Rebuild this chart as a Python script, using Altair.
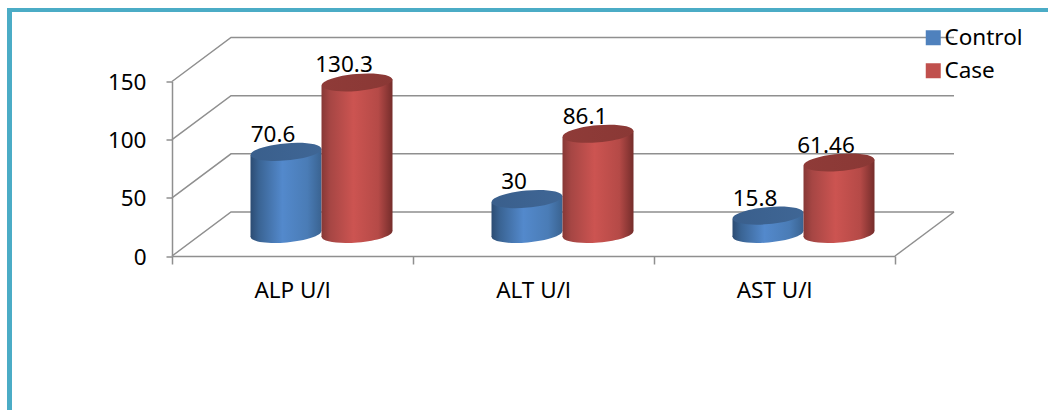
import altair as alt
import pandas as pd

# Values shown on the chart
categories = ["ALP U/l", "ALT U/l", "AST U/l"]
control = [70.6, 30, 15.8]
case = [130.3, 86.1, 61.46]
y_ticks = [0, 50, 100, 150]
x_ticks = [0, 1, 2, 3]

# Plot box in pixels and the pseudo-3D depth of the floor
WIDTH, HEIGHT = 723, 174.5
PX_X = 3 / WIDTH
PX_Y = 150 / HEIGHT
DEPTH_X = 59 * PX_X
DEPTH_Y = 44 * PX_Y
BASE = DEPTH_Y / 2
CYL_W = 71 * PX_X
TILT = 3.1 * PX_Y
ELLIPSE = "M-0.9962,0.0872 A1,0.24 -5 1 1 0.9962,-0.0872 A1,0.24 -5 1 1 -0.9962,0.0872 Z"
ELLIPSE_SIZE = 71 ** 2

GREY = "#8f8f8f"
TEAL = "#4bacc6"
FONT = "Noto Sans"
FS = 22.5

x_scale = alt.Scale(domain=[0, 3], nice=False, zero=False)
y_scale = alt.Scale(domain=[0, 150], nice=False)


def gradient(stops):
    return alt.Gradient(
        gradient="linear", x1=0, x2=1, y1=0, y2=0,
        stops=[alt.GradientStop(offset=o, color=c) for o, c in stops],
    )


# Back wall and side wall grid, drawn as one polyline per tick, plus the floor edge
grid_rows = []
for t in y_ticks:
    grid_rows += [
        {"g": f"t{t}", "i": 0, "x": 0, "y": t},
        {"g": f"t{t}", "i": 1, "x": DEPTH_X, "y": t + DEPTH_Y},
        {"g": f"t{t}", "i": 2, "x": 3 + DEPTH_X, "y": t + DEPTH_Y},
    ]
grid_rows += [
    {"g": "floor", "i": 0, "x": 3, "y": 0},
    {"g": "floor", "i": 1, "x": 3 + DEPTH_X, "y": DEPTH_Y},
]
grid = alt.Chart(pd.DataFrame(grid_rows)).mark_line(color=GREY, strokeWidth=1.5).encode(
    x=alt.X(
        "x:Q", scale=x_scale, title=None,
        axis=alt.Axis(values=x_ticks, labels=False, grid=False, domainColor=GREY, domainWidth=1.5,
                      tickColor=GREY, tickWidth=1.5, tickSize=8),
    ),
    y=alt.Y(
        "y:Q", scale=y_scale, title=None,
        axis=alt.Axis(values=y_ticks, grid=False, domainColor=GREY, domainWidth=1.5,
                      tickColor=GREY, tickWidth=1.5, tickSize=6, labelFont=FONT, labelFontSize=FS,
                      labelColor="#000000", labelPadding=20, labelOffset=1),
    ),
    detail="g:N",
    order="i:Q",
)


def cylinder(values, side, body_stops, cap_stops):
    """Bottom ellipse, side wall and top cap for one series."""
    centers = [i + 0.5 + DEPTH_X / 2 - 0.5 * PX_X + side * CYL_W / 2 for i in range(len(categories))]
    ends = pd.DataFrame({"c": categories, "x": centers, "y": [BASE + v for v in values]})
    wall_rows = []
    for name, cx, v in zip(categories, centers, values):
        wall_rows.append({"c": name, "x": cx - CYL_W / 2, "y": BASE + v - TILT, "y2": BASE - TILT})
        wall_rows.append({"c": name, "x": cx + CYL_W / 2, "y": BASE + v + TILT, "y2": BASE + TILT})
    body = gradient(body_stops)
    bottom = alt.Chart(ends).mark_point(
        shape=ELLIPSE, size=ELLIPSE_SIZE, filled=True, fill=body, opacity=1, strokeWidth=0
    ).encode(
        x=alt.X("x:Q", scale=x_scale),
        y=alt.YDatum(BASE, scale=y_scale),
    )
    wall = alt.Chart(pd.DataFrame(wall_rows)).mark_area(fill=body, opacity=1).encode(
        x=alt.X("x:Q", scale=x_scale),
        y=alt.Y("y:Q", scale=y_scale),
        y2="y2:Q",
        detail="c:N",
    )
    cap = alt.Chart(ends).mark_point(
        shape=ELLIPSE, size=ELLIPSE_SIZE, filled=True, fill=gradient(cap_stops), opacity=1, strokeWidth=0
    ).encode(
        x=alt.X("x:Q", scale=x_scale),
        y=alt.Y("y:Q", scale=y_scale),
    )
    labels = alt.Chart(pd.DataFrame({"x": centers, "y": ends["y"], "v": [str(v) for v in values]})).mark_text(
        font=FONT, fontSize=FS, color="#000000", dx=-13, dy=-10, baseline="alphabetic"
    ).encode(
        x=alt.X("x:Q", scale=x_scale),
        y=alt.Y("y:Q", scale=y_scale),
        text="v:N",
    )
    return [bottom, wall, cap], labels


blue_parts, blue_labels = cylinder(
    control, -1,
    [(0, "#2c4c73"), (0.12, "#3a6494"), (0.45, "#5389cc"), (0.8, "#4a7cb6"), (1, "#3a6391")],
    [(0, "#3a5f8c"), (1, "#3f6695")],
)
red_parts, red_labels = cylinder(
    case, 1,
    [(0, "#873836"), (0.12, "#a64644"), (0.45, "#cc5451"), (0.8, "#b54a47"), (1, "#752d2b")],
    [(0, "#8f3b38"), (1, "#8a3835")],
)

# Category names under the front edge of the floor
cat_labels = alt.Chart(pd.DataFrame({"c": categories, "x": [i + 0.5 for i in range(3)], "y": [0, 0, 0]})).mark_text(
    font=FONT, fontSize=FS, color="#000000", dy=42, baseline="alphabetic"
).encode(
    x=alt.X("x:Q", scale=x_scale),
    y=alt.Y("y:Q", scale=y_scale),
    text="c:N",
)

# Invisible layer that carries the series legend
legend_layer = alt.Chart(pd.DataFrame({"s": ["Control", "Case"], "x": [0, 0], "y": [0, 0]})).mark_point(
    filled=True, size=0, opacity=0
).encode(
    x=alt.X("x:Q", scale=x_scale),
    y=alt.Y("y:Q", scale=y_scale),
    color=alt.Color(
        "s:N",
        scale=alt.Scale(domain=["Control", "Case"], range=["#4f81bd", "#c0504d"]),
        legend=alt.Legend(
            title=None, orient="none", legendX=750, legendY=-55, symbolType="square", symbolSize=225,
            symbolOpacity=1, symbolStrokeWidth=0, labelFont=FONT, labelFontSize=FS, labelColor="#000000",
            rowPadding=10, labelOffset=0, padding=0,
        ),
    ),
)

# Teal page border along the top and left edges
border_top = alt.Chart().mark_rule(color=TEAL, strokeWidth=4).encode(
    x=alt.value(-165), x2=alt.value(880), y=alt.value(-71.5)
)
border_left = alt.Chart().mark_rule(color=TEAL, strokeWidth=5).encode(
    x=alt.value(-162.5), y=alt.value(-73.5), y2=alt.value(330)
)

chart = alt.layer(
    grid,
    *blue_parts,
    *red_parts,
    blue_labels,
    red_labels,
    cat_labels,
    legend_layer,
    border_top,
    border_left,
).properties(
    width=WIDTH,
    height=HEIGHT,
    padding={"left": 172, "top": 81.5, "right": 153, "bottom": 154},
    autosize="none",
    background="#ffffff",
).configure_view(stroke=None)

chart.save("out.html", embed_options={"renderer": "svg", "actions": False})
